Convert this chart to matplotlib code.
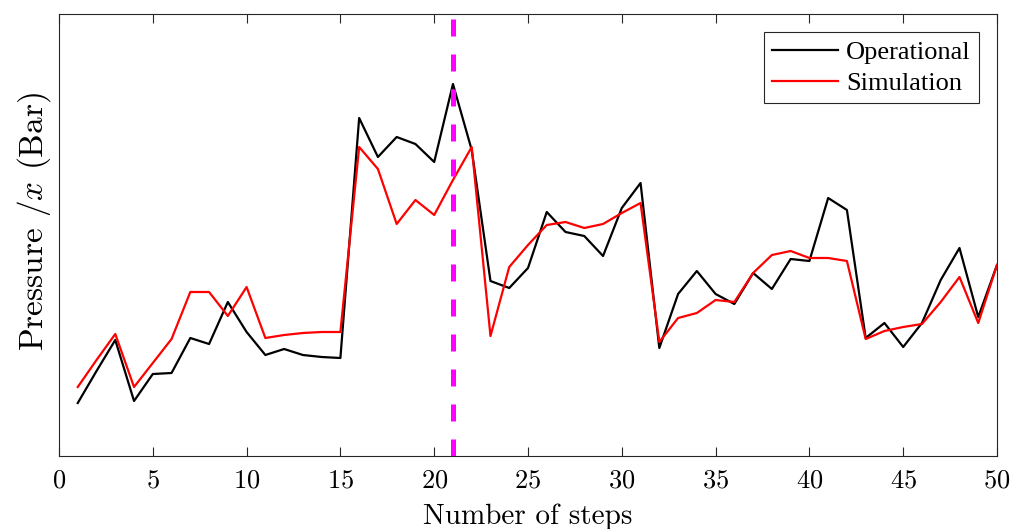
import numpy as np
import matplotlib
matplotlib.use("Agg")
import matplotlib.pyplot as plt

# pressure readings (arbitrary units, no y scale shown in source figure)
steps = np.arange(1, 51)
operational = [53, 85, 116, 55, 82, 83, 118, 112, 154, 124,
               101, 107, 101, 99, 98, 338, 299, 319, 312, 294,
               372, 306, 175, 168, 188, 244, 224, 220, 200, 248,
               273, 108, 162, 185, 162, 152, 183, 167, 197, 195,
               258, 246, 118, 133, 109, 133, 176, 208, 139, 191]
simulation = [69, 96, 122, 69, 93, 117, 164, 164, 140, 169,
              118, 121, 123, 124, 124, 309, 287, 232, 256, 241,
              276, 309, 120, 189, 211, 231, 234, 228, 232, 243,
              253, 114, 138, 143, 156, 154, 183, 201, 205, 198,
              198, 195, 117, 125, 129, 132, 154, 179, 133, 191]
split_step = 21
xticks = [0, 5, 10, 15, 20, 25, 30, 35, 40, 45, 50]

plt.rcParams['font.family'] = 'cmr10'
plt.rcParams['mathtext.fontset'] = 'cm'
plt.rcParams['axes.formatter.use_mathtext'] = True

fig = plt.figure(figsize=(10.23, 5.29), dpi=100)
ax = fig.add_axes([59/1023, 1 - 456/529, 938/1023, 442/529])

ax.plot(steps, operational, color='black', lw=1.6, label='Operational')
ax.plot(steps, simulation, color='red', lw=1.6, label='Simulation')
ax.axvline(split_step, color='magenta', lw=3.6, dashes=(3.4, 3.6))

ax.set_xlim(0, 50)
ax.set_ylim(0, 442)
ax.set_xticks(xticks)
ax.set_yticks([])
ax.tick_params(axis='x', direction='in', length=6.5, width=0.8, top=True,
               labelsize=19, pad=9, colors='#262626', labelcolor='black')
for s in ax.spines.values():
    s.set_color('#262626')
    s.set_linewidth(0.8)

ax.set_xlabel('Number of steps', fontsize=21, labelpad=8)
ax.set_ylabel(r'Pressure /$x$ (Bar)', fontsize=24, labelpad=4)
ax.yaxis.label.set_y(0.53)

leg = ax.legend(loc='upper right', prop={'family': 'Liberation Serif', 'size': 19},
                fancybox=False, framealpha=1, edgecolor='#262626',
                handlelength=2.5, handletextpad=0.3, borderpad=0.3,
                labelspacing=0.3, borderaxespad=0.7)
leg.get_frame().set_linewidth(0.8)

fig.savefig('out.png', dpi=100)
